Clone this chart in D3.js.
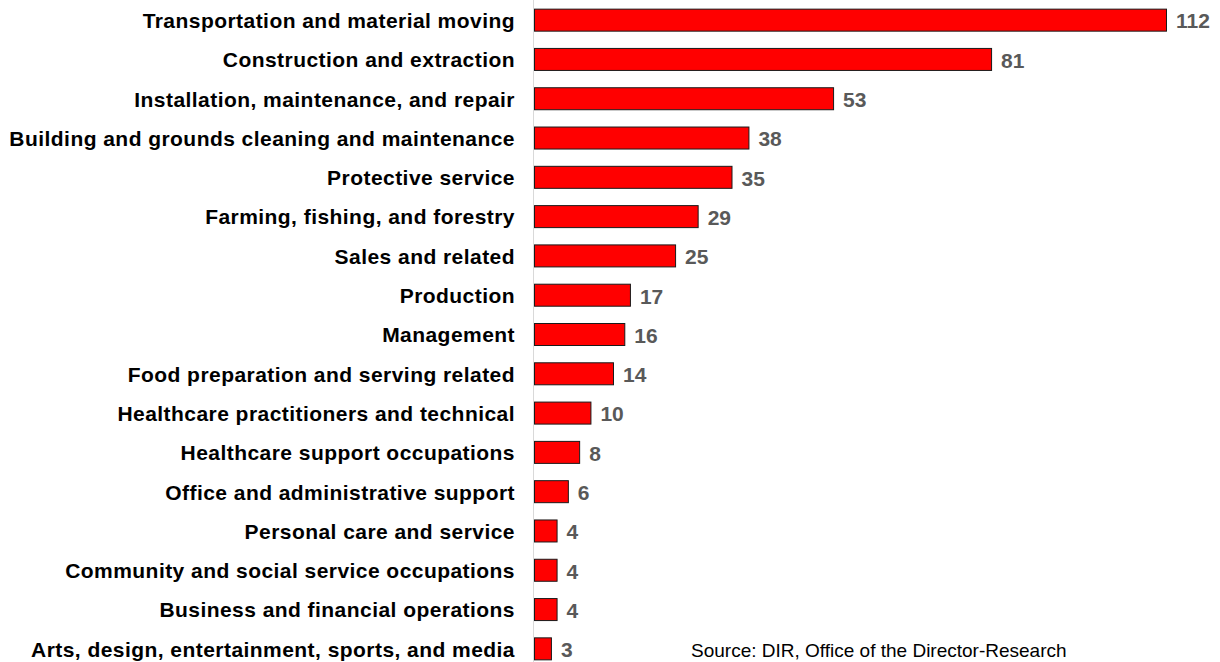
<!DOCTYPE html>
<html>
<head>
<meta charset="utf-8">
<script src="https://cdn.jsdelivr.net/npm/d3@7"></script>
<style>
  body { margin: 0; background: #fff; }
  svg { display: block; font-family: "Liberation Sans", Arial, sans-serif; }
</style>
</head>
<body>
<div id="chart"></div>
<script>
// occupations, sorted as shown (top to bottom)
var categories = [
    "Transportation and material moving",
    "Construction and extraction",
    "Installation, maintenance, and repair",
    "Building and grounds cleaning and maintenance",
    "Protective service",
    "Farming, fishing, and forestry",
    "Sales and related",
    "Production",
    "Management",
    "Food preparation and serving related",
    "Healthcare practitioners and technical",
    "Healthcare support occupations",
    "Office and administrative support ",
    "Personal care and service",
    "Community and social service occupations",
    "Business and financial operations",
    "Arts, design, entertainment, sports, and media"
];
var values = [112, 81, 53, 38, 35, 29, 25, 17, 16, 14, 10, 8, 6, 4, 4, 4, 3];
var sourceText = "Source: DIR, Office of the Director-Research";

var width = 1220, height = 662;
var axisX = 534;

var svg = d3.select("#chart").append("svg")
    .attr("width", width)
    .attr("height", height);

var x = d3.scaleLinear()
    .domain([0, 112])
    .range([axisX, 1166]);

var y = d3.scaleBand()
    .domain(categories)
    .range([0, 668])
    .paddingInner(0.44)
    .paddingOuter(0.22);

// left axis line
svg.append("line")
    .attr("x1", axisX - 0.5).attr("x2", axisX - 0.5)
    .attr("y1", 0).attr("y2", height)
    .attr("stroke", "#d9d9d9")
    .attr("stroke-width", 1);

// bars
svg.selectAll("rect.bar")
    .data(values)
    .enter().append("rect")
    .attr("class", "bar")
    .attr("x", x(0) + 0.5)
    .attr("y", function (d, i) { return y(categories[i]) + 0.5; })
    .attr("width", function (d) { return x(d) - x(0); })
    .attr("height", y.bandwidth())
    .attr("fill", "#ff0000")
    .attr("stroke", "#1a1a1a")
    .attr("stroke-width", 1);

// category labels
svg.selectAll("text.cat")
    .data(categories)
    .enter().append("text")
    .attr("class", "cat")
    .attr("x", 515)
    .attr("y", function (d) { return y(d) + y.bandwidth() / 2 + 1; })
    .attr("dy", "0.35em")
    .attr("text-anchor", "end")
    .attr("font-size", "21px")
    .attr("letter-spacing", "0.45px")
    .attr("font-weight", "bold")
    .attr("fill", "#000")
    .text(function (d) { return d; });

// value labels
svg.selectAll("text.val")
    .data(values)
    .enter().append("text")
    .attr("class", "val")
    .attr("x", function (d) { return x(d) + 10; })
    .attr("y", function (d, i) { return y(categories[i]) + y.bandwidth() / 2 + 1.5; })
    .attr("dy", "0.35em")
    .attr("font-size", "21px")
    .attr("font-weight", "bold")
    .attr("fill", "#595959")
    .text(function (d) { return d; });

// source note near the bottom edge
svg.append("text")
    .attr("x", 691)
    .attr("y", 657)
    .attr("font-size", "19px")
    .attr("fill", "#000")
    .text(sourceText);
</script>
</body>
</html>
